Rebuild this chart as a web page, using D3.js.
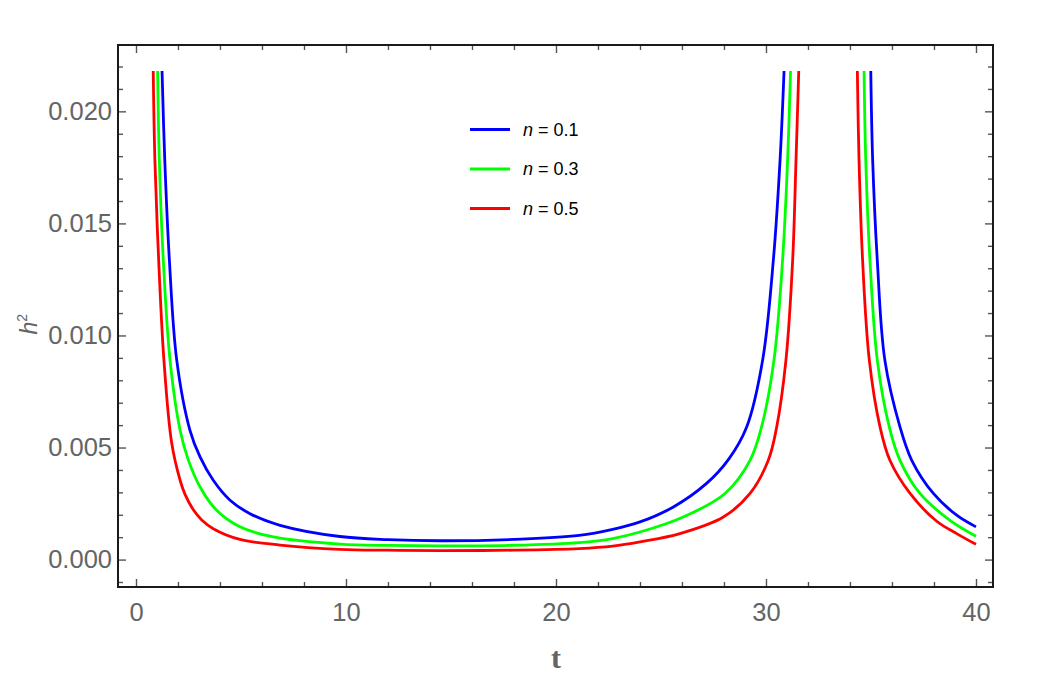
<!DOCTYPE html>
<html lang="en">
<head>
    <meta charset="UTF-8">
    <title>h2 vs t</title>
    <script src="https://d3js.org/d3.v7.min.js"></script>
    <style>
        body { margin: 0; background: #fff; }
        .tick text { font-family: "Liberation Sans", Arial, sans-serif; fill: #646464; }
    </style>
</head>
<body>
    <div id="chart"></div>
    <script>
        // values (null = break between branches)
        const t01 = [1.24, 1.37, 1.59, 1.94, 2.57, 3.05, 3.68, 4.48, 5.43, 6.86, 9.71, 12, 14.5, 18, 21.1, 22.7, 24.0, 25.59, 27.17, 28.2, 29.08, 29.84, 30.35, 30.67, 30.86,
                     null, 34.99, 35.08, 35.30, 35.66, 36.38, 36.94, 37.97, 39.08, 40.0];
        const h01 = [0.0218, 0.01783, 0.01336, 0.0089, 0.00577, 0.00458, 0.00354, 0.00265, 0.00205, 0.00153, 0.00103, 0.00089, 0.00084, 0.0009, 0.00108, 0.00135, 0.00168, 0.00235, 0.0034, 0.00445, 0.00592, 0.0089, 0.01336, 0.01783, 0.0218,
                     null, 0.0218, 0.01783, 0.01336, 0.0089, 0.00592, 0.00443, 0.00295, 0.00198, 0.00146];

        const t03 = [1.03, 1.11, 1.30, 1.62, 2.10, 2.49, 3.05, 3.84, 4.95, 6.54, 9.71, 12, 14.5, 18, 21.1, 22.7, 24.0, 26.06, 28.05, 29.24, 29.79, 30.38, 30.79, 31.03, 31.17,
                     null, 34.67, 34.75, 34.95, 35.30, 35.87, 36.38, 37.33, 38.76, 40.0];
        const h03 = [0.0218, 0.01783, 0.01336, 0.0089, 0.00577, 0.00445, 0.00324, 0.0022, 0.00146, 0.00101, 0.00069, 0.00063, 0.00061, 0.00064, 0.00076, 0.00094, 0.00123, 0.0019, 0.00295, 0.00443, 0.00592, 0.0089, 0.01336, 0.01783, 0.0218,
                     null, 0.0218, 0.01783, 0.01336, 0.0089, 0.00592, 0.00443, 0.00295, 0.00175, 0.00104];

        const t05 = [0.82, 0.90, 1.08, 1.33, 1.70, 2.10, 2.33, 2.73, 3.13, 3.68, 4.95, 6.86, 9.71, 12, 14.5, 18, 21.1, 22.7, 24.0, 25.9, 27.97, 29.24, 30.11, 30.51, 30.95, 31.27, 31.43, 31.56,
                     null, 34.35, 34.43, 34.60, 34.92, 35.43, 35.90, 36.86, 38.13, 39.08, 40.0];
        const h05 = [0.0218, 0.01783, 0.01336, 0.0089, 0.0052, 0.00354, 0.00292, 0.00222, 0.00177, 0.00138, 0.0009, 0.00065, 0.00046, 0.00042, 0.0004, 0.00042, 0.00049, 0.0006, 0.00079, 0.00116, 0.0019, 0.00295, 0.00443, 0.00592, 0.0089, 0.01336, 0.01783, 0.0218,
                     null, 0.0218, 0.01783, 0.01336, 0.0089, 0.00592, 0.00443, 0.00295, 0.00171, 0.00116, 0.00068];

        const seriesNames = ["n = 0.1", "n = 0.3", "n = 0.5"];
        const seriesColors = ["#0000ff", "#00ff00", "#ff0000"];

        const xMajor = [0, 10, 20, 30, 40];
        const yMajor = [0, 0.005, 0.010, 0.015, 0.020];

        const series = [
            { name: seriesNames[0], color: seriesColors[0], pts: t01.map((t, i) => ({ t: t, h: h01[i] })) },
            { name: seriesNames[1], color: seriesColors[1], pts: t03.map((t, i) => ({ t: t, h: h03[i] })) },
            { name: seriesNames[2], color: seriesColors[2], pts: t05.map((t, i) => ({ t: t, h: h05[i] })) }
        ];

        const W = 1042, H = 675;
        const margin = {top: 45, right: 49, bottom: 88, left: 118};
        const width = W - margin.left - margin.right;
        const height = H - margin.top - margin.bottom;

        const x = d3.scaleLinear().domain([-0.857, 40.81]).range([0, width]);
        const y = d3.scaleLinear().domain([-0.001223, 0.02296]).range([height, 0]);

        const xMinor = d3.range(0, 41, 2).filter(v => !xMajor.includes(v));
        const yMinor = d3.range(-1, 23).map(v => v / 1000).filter(v => !yMajor.some(m => Math.abs(m - v) < 1e-9));

        const svg = d3.select("#chart").append("svg")
            .attr("width", W).attr("height", H);
        const g = svg.append("g").attr("transform", `translate(${margin.left},${margin.top})`);

        // ticks: all drawn inside the frame
        function styleAxis(sel) {
            sel.select(".domain").remove();
            sel.selectAll(".tick line").attr("stroke", "#555").attr("stroke-width", 1.4);
        }
        g.append("g").attr("transform", `translate(0,${height})`)
            .call(d3.axisBottom(x).tickValues(xMajor).tickSize(-8).tickPadding(16).tickFormat(d3.format("d")))
            .call(styleAxis).selectAll("text").attr("font-size", 25.5);
        g.append("g").attr("transform", `translate(0,${height})`)
            .call(d3.axisBottom(x).tickValues(xMinor).tickSize(-5).tickFormat("")).call(styleAxis);
        g.append("g")
            .call(d3.axisTop(x).tickValues(xMajor).tickSize(-8).tickFormat("")).call(styleAxis);
        g.append("g")
            .call(d3.axisTop(x).tickValues(xMinor).tickSize(-5).tickFormat("")).call(styleAxis);

        g.append("g")
            .call(d3.axisLeft(y).tickValues(yMajor).tickSize(-8).tickPadding(6).tickFormat(d3.format(".3f")))
            .call(styleAxis).selectAll("text").attr("font-size", 25.5);
        g.append("g")
            .call(d3.axisLeft(y).tickValues(yMinor).tickSize(-5).tickFormat("")).call(styleAxis);
        g.append("g").attr("transform", `translate(${width},0)`)
            .call(d3.axisRight(y).tickValues(yMajor).tickSize(-8).tickFormat("")).call(styleAxis);
        g.append("g").attr("transform", `translate(${width},0)`)
            .call(d3.axisRight(y).tickValues(yMinor).tickSize(-5).tickFormat("")).call(styleAxis);

        // frame
        g.append("rect")
            .attr("width", width).attr("height", height)
            .attr("fill", "none").attr("stroke", "#1a1a1a").attr("stroke-width", 2);

        // curves
        const line = d3.line()
            .defined(d => d.t !== null && d.h !== null)
            .x(d => x(d.t))
            .y(d => y(d.h))
            .curve(d3.curveCatmullRom.alpha(0.5));

        g.selectAll(".curve")
            .data(series)
            .enter().append("path")
            .attr("class", "curve")
            .attr("d", d => line(d.pts))
            .attr("fill", "none")
            .attr("stroke", d => d.color)
            .attr("stroke-width", 2.8);

        // legend
        const legend = g.append("g").attr("transform", `translate(${470 - margin.left},${129.5 - margin.top})`);
        series.forEach((s, i) => {
            const row = legend.append("g").attr("transform", `translate(0,${i * 39.5})`);
            row.append("line").attr("x1", 0).attr("x2", 40)
                .attr("stroke", s.color).attr("stroke-width", 3.2);
            const txt = row.append("text").attr("x", 53).attr("dy", "0.35em")
                .attr("font-family", "Liberation Sans, Arial, sans-serif")
                .attr("font-size", 18).attr("fill", "#000");
            txt.append("tspan").attr("font-style", "italic").text("n");
            txt.append("tspan").text(s.name.slice(1));
        });

        // axis titles
        svg.append("text")
            .attr("x", margin.left + x(20)).attr("y", 668)
            .attr("text-anchor", "middle")
            .attr("font-family", "Liberation Serif, Times New Roman, serif")
            .attr("font-weight", "bold").attr("font-size", 30)
            .attr("fill", "#646464")
            .text("t");

        const yt = svg.append("text")
            .attr("transform", `translate(37,${margin.top + y(0.0105)}) rotate(-90)`)
            .attr("text-anchor", "middle")
            .attr("font-family", "Liberation Sans, Arial, sans-serif")
            .attr("font-size", 23).attr("fill", "#646464");
        yt.append("tspan").attr("font-style", "italic").text("h");
        yt.append("tspan").attr("font-size", 14).attr("dy", -10).text("2");
    </script>
</body>
</html>
